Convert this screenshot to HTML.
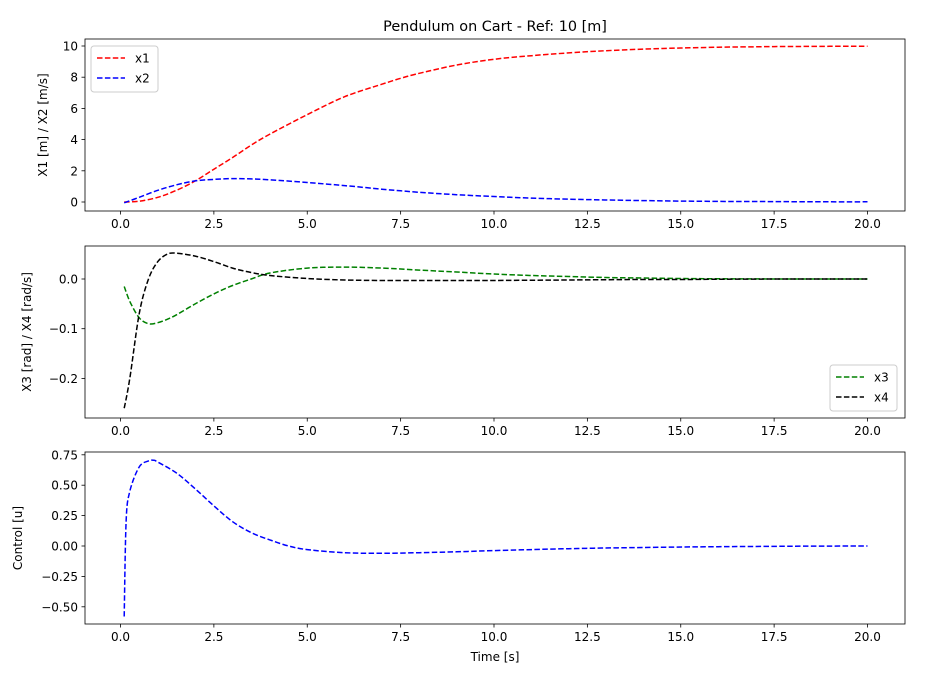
<!DOCTYPE html>
<html><head><meta charset="utf-8"><style>
body{margin:0;background:#fff}
svg text{font-family:"DejaVu Sans","Liberation Sans",sans-serif;font-size:12px;fill:#000}
</style></head><body>
<svg id="fig" width="940" height="687" xmlns="http://www.w3.org/2000/svg">
<rect width="940" height="687" fill="#fff"/>
<text x="495" y="31" text-anchor="middle" style="font-size:14.4px">Pendulum on Cart - Ref: 10 [m]</text>
<g id="g1"></g><g id="g2"></g><g id="g3"></g>
<text x="495" y="661" text-anchor="middle">Time [s]</text>
</svg>
<script>
const xTicks=[0,2.5,5,7.5,10,12.5,15,17.5,20];
const xTickLabels=["0.0","2.5","5.0","7.5","10.0","12.5","15.0","17.5","20.0"];
const t1=[0.1,0.5,1,1.5,2,2.5,3,3.5,4,5,6,7,7.5,8,9,10,11,12,13,14,15,16,17,18,19,20];
const x1=[0,0.05,0.3,0.75,1.35,2.1,2.85,3.65,4.35,5.6,6.75,7.55,7.93,8.25,8.78,9.15,9.38,9.56,9.7,9.8,9.87,9.92,9.95,9.97,9.98,9.99];
const x2=[-0.05,0.3,0.75,1.1,1.35,1.45,1.5,1.48,1.42,1.25,1.05,0.82,0.72,0.62,0.47,0.35,0.25,0.18,0.13,0.09,0.06,0.04,0.03,0.02,0.01,0.01];
const t2=[0.1,0.25,0.5,0.75,1,1.25,1.5,2,2.5,3,3.5,4,5,6,7,8,9,10,11,12,13,14,15,16,18,20];
const x3=[-0.015,-0.045,-0.078,-0.09,-0.088,-0.081,-0.072,-0.05,-0.03,-0.013,0,0.012,0.022,0.024,0.022,0.018,0.014,0.01,0.007,0.005,0.003,0.002,0.001,0.0005,0,0];
const x4=[-0.26,-0.2,-0.07,0,0.035,0.05,0.052,0.046,0.035,0.022,0.013,0.007,0.001,-0.002,-0.003,-0.003,-0.003,-0.003,-0.0025,-0.002,-0.0015,-0.001,-0.001,-0.0005,0,0];
const t3=[0.1,0.15,0.25,0.5,0.75,0.9,1,1.5,2,2.5,3,3.5,4,4.5,5,6,7,8,9,10,12,14,16,18,20];
const u=[-0.58,0.2,0.45,0.65,0.7,0.705,0.69,0.6,0.47,0.33,0.2,0.11,0.05,0.0,-0.03,-0.055,-0.06,-0.055,-0.048,-0.038,-0.022,-0.012,-0.006,-0.002,0];
const y1Ticks=[0,2,4,6,8,10];const y1Labels=["0","2","4","6","8","10"];
const y2Ticks=[0,-0.1,-0.2];const y2Labels=["0.0","\u22120.1","\u22120.2"];
const y3Ticks=[0.75,0.5,0.25,0,-0.25,-0.5];const y3Labels=["0.75","0.50","0.25","0.00","\u22120.25","\u22120.50"];
const NS="http://www.w3.org/2000/svg";
const L=85,R=905;
const xs=v=>120.5+v*37.35;
function mk(p,tag,a){const e=document.createElementNS(NS,tag);for(const k in a)e.setAttribute(k,a[k]);p.appendChild(e);return e;}
function axes(g,top,bot,ys,ticks,labels,ylab,labX,name){
  for(let i=0;i<xTicks.length;i++){const x=xs(xTicks[i]);
    const tk=mk(g,'line',{x1:x,x2:x,y1:bot,y2:bot+3.5,stroke:'#000','stroke-width':0.8});
    
    
    const tx=mk(g,'text',{x:x,y:bot+17,'text-anchor':'middle'});tx.textContent=xTickLabels[i];
    
    }
  for(let i=0;i<ticks.length;i++){const y=ys(ticks[i]);
    const tk=mk(g,'line',{x1:L-3.5,x2:L,y1:y,y2:y,stroke:'#000','stroke-width':0.8});
    
    
    const tx=mk(g,'text',{x:L-7,y:y+4.5,'text-anchor':'end'});tx.textContent=labels[i];
    
    }
  const yl=mk(g,'text',{x:labX,y:(top+bot)/2,'text-anchor':'middle',transform:`rotate(-90 ${labX} ${(top+bot)/2})`});yl.textContent=ylab;
  
  
}
function frame(g,top,bot,name){const r=mk(g,'rect',{x:L,y:top,width:R-L,height:bot-top,fill:'none',stroke:'#000','stroke-width':0.8});
  
  }
function line(g,ts,vs,ys,col,name){
  const P=ts.map((t,i)=>[xs(t),ys(vs[i])]);
  let d='M'+P[0][0].toFixed(1)+','+P[0][1].toFixed(1);
  for(let i=0;i<P.length-1;i++){
    const p0=P[Math.max(0,i-1)],p1=P[i],p2=P[i+1],p3=P[Math.min(P.length-1,i+2)];
    const c1=[p1[0]+(p2[0]-p0[0])/6,p1[1]+(p2[1]-p0[1])/6];
    const c2=[p2[0]-(p3[0]-p1[0])/6,p2[1]-(p3[1]-p1[1])/6];
    d+=` C${c1[0].toFixed(1)},${c1[1].toFixed(1)} ${c2[0].toFixed(1)},${c2[1].toFixed(1)} ${p2[0].toFixed(1)},${p2[1].toFixed(1)}`;
  }
  const p=mk(g,'path',{d:d,fill:'none',stroke:col,'stroke-width':1.5,'stroke-dasharray':'5.5,2.4','stroke-linejoin':'round'});
  
  }
function legend(g,x,y,items,name){const b=mk(g,'rect',{x:x,y:y,width:67,height:46,rx:3,fill:'#fff',stroke:'#ccc','stroke-width':1});
  
  
  items.forEach((it,i)=>{const yy=y+12+i*20;
    const l=mk(g,'line',{x1:x+6,x2:x+34,y1:yy,y2:yy,stroke:it[1],'stroke-width':1.5,'stroke-dasharray':'5.5,2.4'});
    
    
    const t=mk(g,'text',{x:x+44,y:yy+4.5});t.textContent=it[0];
    
    });}
const g1=document.getElementById('g1');
const ys1=v=>202-v*15.6;
axes(g1,39,211,ys1,y1Ticks,y1Labels,'X1 [m] / X2 [m/s]',47,'position');
line(g1,t1,x1,ys1,'#ff0000','series-x1');line(g1,t1,x2,ys1,'#0000ff','series-x2');
frame(g1,39,211,'position');legend(g1,91,46,[['x1','#ff0000'],['x2','#0000ff']],'legend-top');
const g2=document.getElementById('g2');
const ys2=v=>279-v*497;
axes(g2,246,418,ys2,y2Ticks,y2Labels,'X3 [rad] / X4 [rad/s]',31,'angle');
line(g2,t2,x3,ys2,'#008000','series-x3');line(g2,t2,x4,ys2,'#000000','series-x4');
frame(g2,246,418,'angle');legend(g2,830,365,[['x3','#008000'],['x4','#000000']],'legend-middle');
const g3=document.getElementById('g3');
const ys3=v=>546-v*121.6;
axes(g3,452,624,ys3,y3Ticks,y3Labels,'Control [u]',22,'control');
line(g3,t3,u,ys3,'#0000ff','series-u');
frame(g3,452,624,'control');
</script>
</body></html>
